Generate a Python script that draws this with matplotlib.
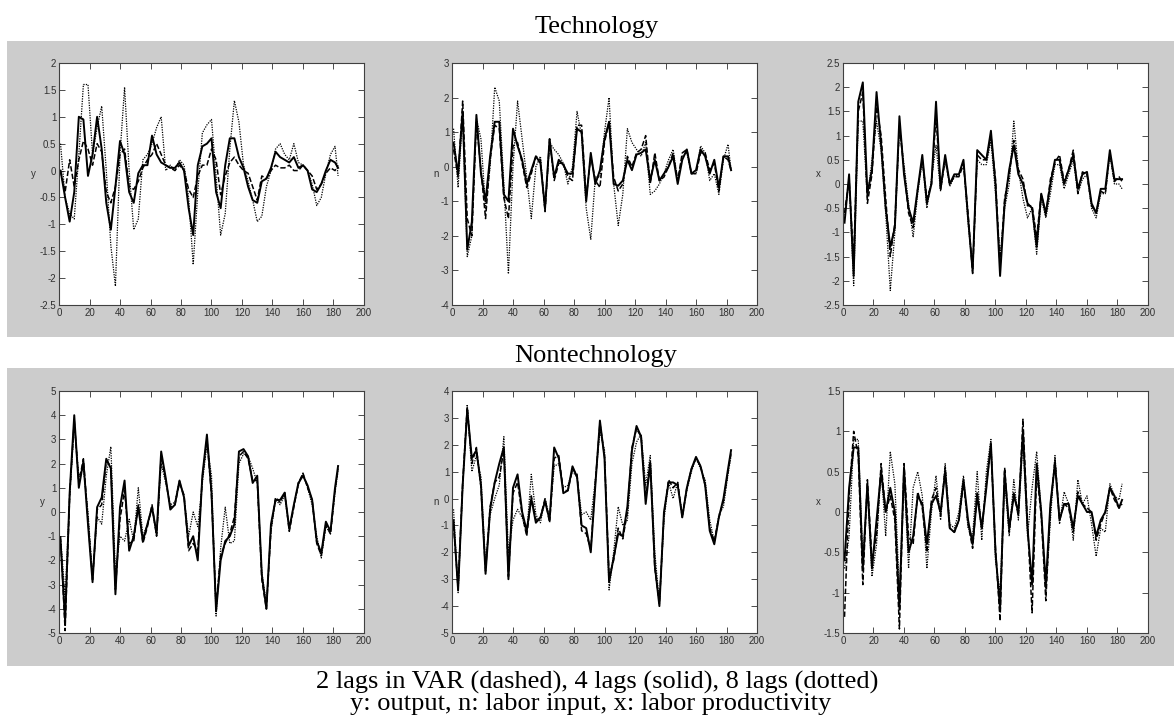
import matplotlib
matplotlib.use("Agg")
import matplotlib.pyplot as plt
from matplotlib.patches import Rectangle
from matplotlib.ticker import MultipleLocator, FuncFormatter

# ---------------- data (quarters) ----------------
quarters = list(range(1, 182, 3)) + [183]

# Technology shock responses
tech_y_lag2 = [0.0, -0.4, 0.2, -0.3, 0.2, 0.55, 0.4, 0.1, 0.5, 0.35,
               -0.4, -0.6, -0.3, 0.3, 0.4, -0.3, -0.35, -0.2, 0.05, 0.2,
               0.3, 0.5, 0.3, 0.1, 0.05, 0.0, 0.1, 0.0, -0.35, -0.5,
               -0.1, 0.1, 0.1, 0.4, 0.2, -0.45, -0.1, 0.15, 0.25, 0.1,
               0.0, -0.05, -0.3, -0.55, -0.1, -0.15, 0.0, 0.1, 0.05, 0.05,
               0.1, 0.0, 0.0, 0.1, 0.0, -0.1, -0.35, -0.25, -0.05, 0.05,
               0.0, 0.1]
tech_y_lag4 = [0.0, -0.5, -0.95, -0.4, 1.0, 0.95, -0.1, 0.3, 1.0, 0.4,
               -0.6, -1.1, -0.3, 0.55, 0.3, -0.4, -0.6, -0.05, 0.1, 0.1,
               0.65, 0.3, 0.15, 0.1, 0.05, 0.05, 0.15, 0.0, -0.7, -1.2,
               0.1, 0.45, 0.5, 0.6, -0.4, -0.7, 0.1, 0.6, 0.6, 0.25,
               0.05, -0.3, -0.55, -0.6, -0.2, -0.15, 0.05, 0.35, 0.25, 0.2,
               0.15, 0.25, 0.05, 0.1, 0.0, -0.35, -0.4, -0.25, 0.0, 0.2,
               0.15, 0.05]
tech_y_lag8 = [0.5, -0.5, -0.8, -0.9, 0.3, 1.6, 1.6, 0.3, 0.8, 1.2,
               0.0, -1.4, -2.15, 0.3, 1.55, 0.0, -1.1, -0.9, 0.2, 0.3,
               0.5, 0.8, 1.0, 0.0, 0.1, 0.0, 0.2, 0.1, -0.5, -1.75,
               -0.4, 0.7, 0.85, 0.95, -0.1, -1.2, -0.8, 0.4, 1.3, 0.9,
               0.1, -0.2, -0.55, -0.95, -0.85, -0.3, 0.0, 0.4, 0.5, 0.3,
               0.2, 0.5, 0.15, 0.1, 0.0, -0.25, -0.65, -0.5, -0.05, 0.3,
               0.45, -0.1]

tech_n_lag2 = [0.5, -0.3, 1.9, -1.5, -2.0, 1.3, -0.1, -1.5, 0.2, 1.2,
               1.1, -0.9, -1.5, 0.6, 0.7, 0.1, -0.6, -0.2, 0.3, 0.2,
               -1.3, 0.8, -0.4, 0.1, 0.1, -0.3, -0.4, 1.2, 1.2, -0.9,
               0.3, -0.4, -0.6, 0.7, 1.3, -0.3, -0.7, -0.5, 0.3, 0.0,
               0.4, 0.5, 0.9, -0.5, 0.4, -0.4, -0.3, 0.0, 0.4, -0.4,
               0.4, 0.5, -0.2, -0.2, 0.4, 0.4, -0.1, 0.1, -0.7, 0.3,
               0.2, -0.1]
tech_n_lag4 = [0.7, -0.2, 1.6, -2.4, -1.6, 1.5, -0.2, -1.0, 0.3, 1.3,
               1.3, -0.8, -1.0, 1.1, 0.6, 0.2, -0.5, -0.1, 0.3, 0.1,
               -1.2, 0.8, -0.3, 0.2, 0.05, -0.2, -0.2, 1.1, 1.0, -1.0,
               0.4, -0.5, -0.1, 0.8, 1.3, -0.5, -0.55, -0.4, 0.2, -0.1,
               0.35, 0.4, 0.5, -0.4, 0.2, -0.4, -0.2, 0.0, 0.3, -0.5,
               0.2, 0.5, -0.2, -0.1, 0.5, 0.3, -0.2, 0.2, -0.6, 0.3,
               0.3, -0.1]
tech_n_lag8 = [1.1, -0.6, 1.5, -2.6, -2.0, 1.4, 0.8, -1.2, 0.0, 2.3,
               1.9, -0.5, -3.1, 0.0, 1.9, 0.8, -0.3, -1.5, 0.0, 0.3,
               -1.3, 0.7, 0.5, 0.35, 0.1, -0.5, 0.0, 1.6, 0.9, -1.2,
               -2.1, -0.3, -0.3, 1.0, 2.0, -0.5, -1.7, -0.8, 1.1, 0.7,
               0.5, 0.3, 0.7, -0.8, -0.7, -0.5, -0.2, 0.2, 0.5, -0.4,
               0.3, 0.4, -0.2, -0.2, 0.6, 0.4, -0.4, -0.2, -0.8, 0.2,
               0.65, -0.1]

tech_x_lag2 = [-0.6, 0.1, -1.6, 1.5, 1.9, -0.4, 0.2, 1.6, 1.0, -0.3,
               -1.5, -0.8, 1.2, 0.3, -0.6, -0.9, -0.1, 0.5, -0.3, 0.0,
               1.4, -0.1, 0.5, 0.0, 0.15, 0.15, 0.4, -0.6, -1.85, 0.6,
               0.5, 0.5, 1.0, 0.1, -1.7, -0.3, 0.2, 0.9, 0.3, 0.1,
               -0.45, -0.45, -1.1, -0.2, -0.65, 0.1, 0.45, 0.6, 0.05, 0.3,
               0.7, -0.2, 0.25, 0.2, -0.45, -0.6, -0.15, -0.2, 0.65, 0.05,
               0.15, 0.05]
tech_x_lag4 = [-0.8, 0.2, -1.9, 1.7, 2.1, -0.2, 0.3, 1.9, 0.8, -0.5,
               -1.3, -0.9, 1.4, 0.2, -0.5, -0.8, -0.1, 0.6, -0.4, 0.0,
               1.7, -0.1, 0.6, 0.0, 0.2, 0.2, 0.5, -0.7, -1.8, 0.7,
               0.6, 0.5, 1.1, 0.0, -1.9, -0.4, 0.3, 0.8, 0.2, 0.0,
               -0.4, -0.5, -1.3, -0.2, -0.6, 0.0, 0.5, 0.5, 0.0, 0.3,
               0.6, -0.1, 0.2, 0.25, -0.4, -0.6, -0.1, -0.1, 0.7, 0.1,
               0.1, 0.1]
tech_x_lag8 = [-0.7, 0.1, -2.1, 1.3, 1.3, -0.3, 0.5, 1.3, 0.7, -0.6,
               -2.2, -1.0, 1.2, 0.4, -0.4, -1.1, -0.2, 0.5, -0.5, 0.1,
               0.8, -0.15, 0.55, -0.05, 0.15, 0.2, 0.45, -0.8, -1.75, 0.5,
               0.4, 0.4, 0.9, -0.2, -1.5, -0.5, 0.0, 1.3, 0.3, -0.3,
               -0.7, -0.5, -1.45, -0.3, -0.7, -0.2, 0.4, 0.4, -0.1, 0.2,
               0.5, -0.2, 0.1, 0.2, -0.5, -0.7, -0.2, -0.2, 0.6, 0.0,
               0.0, -0.1]

# Nontechnology shock responses
nontech_y_lag2 = [-1.0, -4.9, 0.7, 3.8, 1.2, 2.2, -0.3, -2.8, 0.1, 0.3,
                  2.1, 1.9, -3.2, -0.3, 0.9, -1.3, -1.2, 0.3, -1.3, -0.6,
                  0.3, -1.0, 2.3, 1.3, 0.2, 0.3, 1.2, 0.7, -1.6, -1.3,
                  -1.6, 1.4, 3.0, 0.7, -3.9, -1.8, -1.3, -0.9, -0.2, 2.3,
                  2.5, 2.2, 1.3, 1.3, -2.8, -4.0, -0.7, 0.6, 0.4, 0.8,
                  -0.8, 0.2, 1.2, 1.6, 1.0, 0.5, -1.3, -1.8, -0.5, -0.9,
                  0.9, 1.8]
nontech_y_lag4 = [-1.2, -4.5, 0.8, 4.0, 1.0, 2.1, -0.5, -2.9, 0.2, 0.6,
                  2.2, 1.8, -3.4, 0.2, 1.3, -1.6, -1.0, 0.2, -1.2, -0.5,
                  0.2, -0.9, 2.5, 1.4, 0.1, 0.3, 1.3, 0.6, -1.4, -1.0,
                  -2.0, 1.5, 3.2, 0.8, -4.1, -2.0, -1.2, -1.0, -0.5, 2.5,
                  2.6, 2.3, 1.2, 1.5, -2.6, -4.0, -0.5, 0.5, 0.5, 0.8,
                  -0.7, 0.3, 1.2, 1.5, 1.1, 0.5, -1.2, -1.7, -0.4, -0.8,
                  1.0, 1.9]
nontech_y_lag8 = [-1.0, -3.5, 0.6, 3.6, 1.5, 1.8, 0.0, -2.7, -0.2, -0.5,
                  1.5, 2.7, -2.5, -1.0, -1.2, -0.3, -1.2, 1.0, -1.0, -0.5,
                  0.2, -1.0, 2.0, 1.2, 0.3, 0.4, 1.3, 0.6, -1.0, 0.0,
                  -0.6, 1.2, 2.8, 1.5, -4.3, -1.5, 0.2, -1.3, -1.2, 2.0,
                  2.4, 2.3, 1.8, 1.2, -2.5, -3.8, -0.8, 0.5, 0.3, 0.7,
                  -0.7, 0.3, 1.1, 1.6, 1.0, 0.3, -1.0, -1.9, -0.6, -0.9,
                  0.8, 1.7]

nontech_n_lag2 = [-1.0, -3.3, 0.6, 3.4, 1.3, 1.9, 0.4, -2.7, -0.3, 0.6,
                  0.8, 1.8, -2.9, 0.2, 0.6, -0.6, -1.4, 0.1, -0.8, -0.7,
                  0.0, -0.9, 1.5, 1.6, 0.3, 0.3, 1.1, 0.9, -1.2, -1.3,
                  -1.9, 0.6, 2.8, 1.6, -2.9, -2.3, -1.1, -1.5, -0.5, 1.9,
                  2.6, 2.3, 0.0, 1.4, -2.6, -3.9, -0.6, 0.7, 0.4, 0.6,
                  -0.7, 0.4, 1.1, 1.5, 1.2, 0.5, -1.1, -1.6, -0.7, -0.1,
                  1.0, 1.7]
nontech_n_lag4 = [-0.8, -3.4, 0.5, 3.3, 1.5, 1.8, 0.5, -2.8, -0.4, 0.6,
                  1.3, 1.9, -3.0, 0.4, 0.9, -0.5, -1.2, 0.0, -0.9, -0.7,
                  -0.1, -0.8, 1.9, 1.5, 0.2, 0.3, 1.2, 0.8, -1.0, -1.1,
                  -2.0, 0.5, 2.9, 1.5, -3.1, -2.2, -1.3, -1.4, -0.3, 1.8,
                  2.7, 2.3, -0.2, 1.3, -2.5, -4.0, -0.5, 0.6, 0.6, 0.5,
                  -0.7, 0.4, 1.1, 1.55, 1.2, 0.5, -1.2, -1.7, -0.7, 0.0,
                  1.1, 1.8]
nontech_n_lag8 = [-0.4, -3.5, 0.4, 3.5, 1.0, 1.6, 0.8, -2.5, -0.6, 0.0,
                  0.5, 2.3, -2.0, -0.8, -0.4, -0.7, -1.3, 0.9, -0.6, -0.9,
                  0.0, -0.7, 1.2, 1.3, 0.4, 0.5, 1.0, 0.8, -0.6, -0.5,
                  -0.8, 0.7, 2.5, 1.8, -3.4, -2.0, -0.3, -1.0, -0.8, 1.3,
                  2.1, 2.4, 0.5, 1.6, -2.0, -3.9, -0.8, 0.6, 0.0, 0.6,
                  -0.6, 0.3, 1.0, 1.5, 1.1, 0.7, -0.8, -1.6, -0.6, -0.3,
                  0.9, 1.6]

nontech_x_lag2 = [-1.3, 0.2, 1.0, 0.7, -0.9, 0.4, -0.6, -0.3, 0.6, 0.0,
                  0.2, -0.1, -1.45, 0.6, -0.3, -0.4, 0.25, 0.05, -0.5, 0.15,
                  0.3, -0.05, 0.55, -0.2, -0.25, -0.1, 0.35, -0.15, -0.45, 0.25,
                  -0.2, 0.35, 0.8, -0.45, -1.35, 0.55, -0.25, 0.25, -0.05, 1.15,
                  -0.15, -1.25, 0.5, -0.05, -1.1, 0.05, 0.65, -0.1, 0.1, 0.05,
                  -0.25, 0.25, 0.1, 0.05, 0.0, -0.35, -0.15, 0.0, 0.3, 0.15,
                  0.05, 0.1]
nontech_x_lag4 = [-0.6, 0.3, 0.8, 0.8, -0.7, 0.35, -0.7, -0.1, 0.5, 0.0,
                  0.3, 0.0, -1.2, 0.55, -0.5, -0.3, 0.2, 0.1, -0.4, 0.1,
                  0.2, 0.0, 0.5, -0.2, -0.25, -0.1, 0.4, -0.1, -0.4, 0.2,
                  -0.2, 0.3, 0.85, -0.5, -1.2, 0.5, -0.2, 0.2, 0.0, 1.0,
                  -0.2, -0.9, 0.6, 0.0, -0.9, 0.1, 0.6, -0.1, 0.1, 0.1,
                  -0.2, 0.2, 0.1, 0.0, 0.0, -0.3, -0.1, 0.0, 0.3, 0.2,
                  0.05, 0.15]
nontech_x_lag8 = [-0.7, -0.3, 0.9, 0.9, -0.6, 0.3, -0.8, -0.4, 0.55, -0.3,
                  0.75, 0.35, -1.0, 0.5, -0.7, 0.3, 0.5, 0.2, -0.7, 0.0,
                  0.45, -0.1, 0.6, -0.15, -0.2, 0.0, 0.45, -0.2, -0.3, 0.5,
                  -0.35, 0.5, 0.9, -0.6, -1.0, 0.4, -0.3, 0.4, -0.1, 0.9,
                  -0.3, 0.3, 0.75, 0.0, -1.0, -0.1, 0.7, -0.15, 0.25, 0.1,
                  -0.35, 0.4, 0.1, 0.2, -0.15, -0.55, -0.2, -0.25, 0.35, 0.2,
                  0.15, 0.35]

var_labels = ["y", "n", "x"]
row_titles = ["Technology", "Nontechnology"]
ylims = [[(-2.5, 2), (-4, 3), (-2.5, 2.5)],
         [(-5, 5), (-5, 4), (-1.5, 1.5)]]
ysteps = [[0.5, 1, 0.5], [1, 1, 0.5]]
panels = [[(tech_y_lag2, tech_y_lag4, tech_y_lag8),
           (tech_n_lag2, tech_n_lag4, tech_n_lag8),
           (tech_x_lag2, tech_x_lag4, tech_x_lag8)],
          [(nontech_y_lag2, nontech_y_lag4, nontech_y_lag8),
           (nontech_n_lag2, nontech_n_lag4, nontech_n_lag8),
           (nontech_x_lag2, nontech_x_lag4, nontech_x_lag8)]]

# ---------------- figure ----------------
plt.rcParams["axes.unicode_minus"] = False
W, H = 1174, 726
fig = plt.figure(figsize=(W / 100, H / 100), dpi=100)

def fx(px):
    return px / W

def fy(py):
    return 1 - py / H

# gray bands drawn as a background axes
bg = fig.add_axes([0, 0, 1, 1], zorder=-10)
bg.set_xlim(0, W)
bg.set_ylim(H, 0)
bg.axis("off")
for top, bot in [(41, 337), (368, 666)]:
    bg.add_patch(Rectangle((7, top), W - 7, bot - top, facecolor="#cccccc",
                           edgecolor="none"))

lefts = [59, 452, 843]
tops = [63, 391]
aw, ah = 305, 242
label_off = [[26, 16, 25], [17, 16, 25]]

fmt = FuncFormatter(lambda v, p: "0" if abs(v) < 1e-9 else "%g" % v)

for r in range(2):
    for c in range(3):
        ax = fig.add_axes([fx(lefts[c]), fy(tops[r] + ah), aw / W, ah / H], zorder=1)
        ax.set_facecolor("white")
        s2, s4, s8 = panels[r][c]
        assert len(s2) == len(quarters) and len(s4) == len(quarters) and len(s8) == len(quarters)
        ax.plot(quarters, s8, color="black", lw=0.9, ls=(0, (1, 1)))
        ax.plot(quarters, s2, color="black", lw=1.1, ls=(0, (3.5, 1.5)))
        ax.plot(quarters, s4, color="black", lw=1.4, ls="-")
        ax.set_xlim(0, 200)
        ax.set_ylim(*ylims[r][c])
        ax.xaxis.set_major_locator(MultipleLocator(20))
        ax.yaxis.set_major_locator(MultipleLocator(ysteps[r][c]))
        ax.xaxis.set_major_formatter(fmt)
        ax.yaxis.set_major_formatter(fmt)
        ax.tick_params(direction="in", top=True, right=True, length=4, width=0.6,
                       labelsize=7, pad=2, colors="#303030")
        for lab in ax.get_xticklabels() + ax.get_yticklabels():
            lab.set_fontfamily("Liberation Sans")
        for sp in ax.spines.values():
            sp.set_color("#404040")
            sp.set_linewidth(0.8)
        ax.set_ylabel(var_labels[c], rotation=0, fontsize=7, family="Liberation Sans",
                      color="#303030")
        ax.yaxis.set_label_coords(-label_off[r][c] / aw, 0.52)

serif = "Liberation Serif"
fig.text(fx(597), fy(33), row_titles[0], ha="center", va="baseline",
         fontsize=19, family=serif)
fig.text(fx(596), fy(362), row_titles[1], ha="center", va="baseline",
         fontsize=19, family=serif)
fig.text(fx(597), fy(689), "2 lags in VAR (dashed), 4 lags (solid), 8 lags (dotted)",
         ha="center", va="baseline", fontsize=19, family=serif)
fig.text(fx(591), fy(710), "y: output, n: labor input, x: labor productivity",
         ha="center", va="baseline", fontsize=19, family=serif)

fig.savefig("out.png", dpi=100)
